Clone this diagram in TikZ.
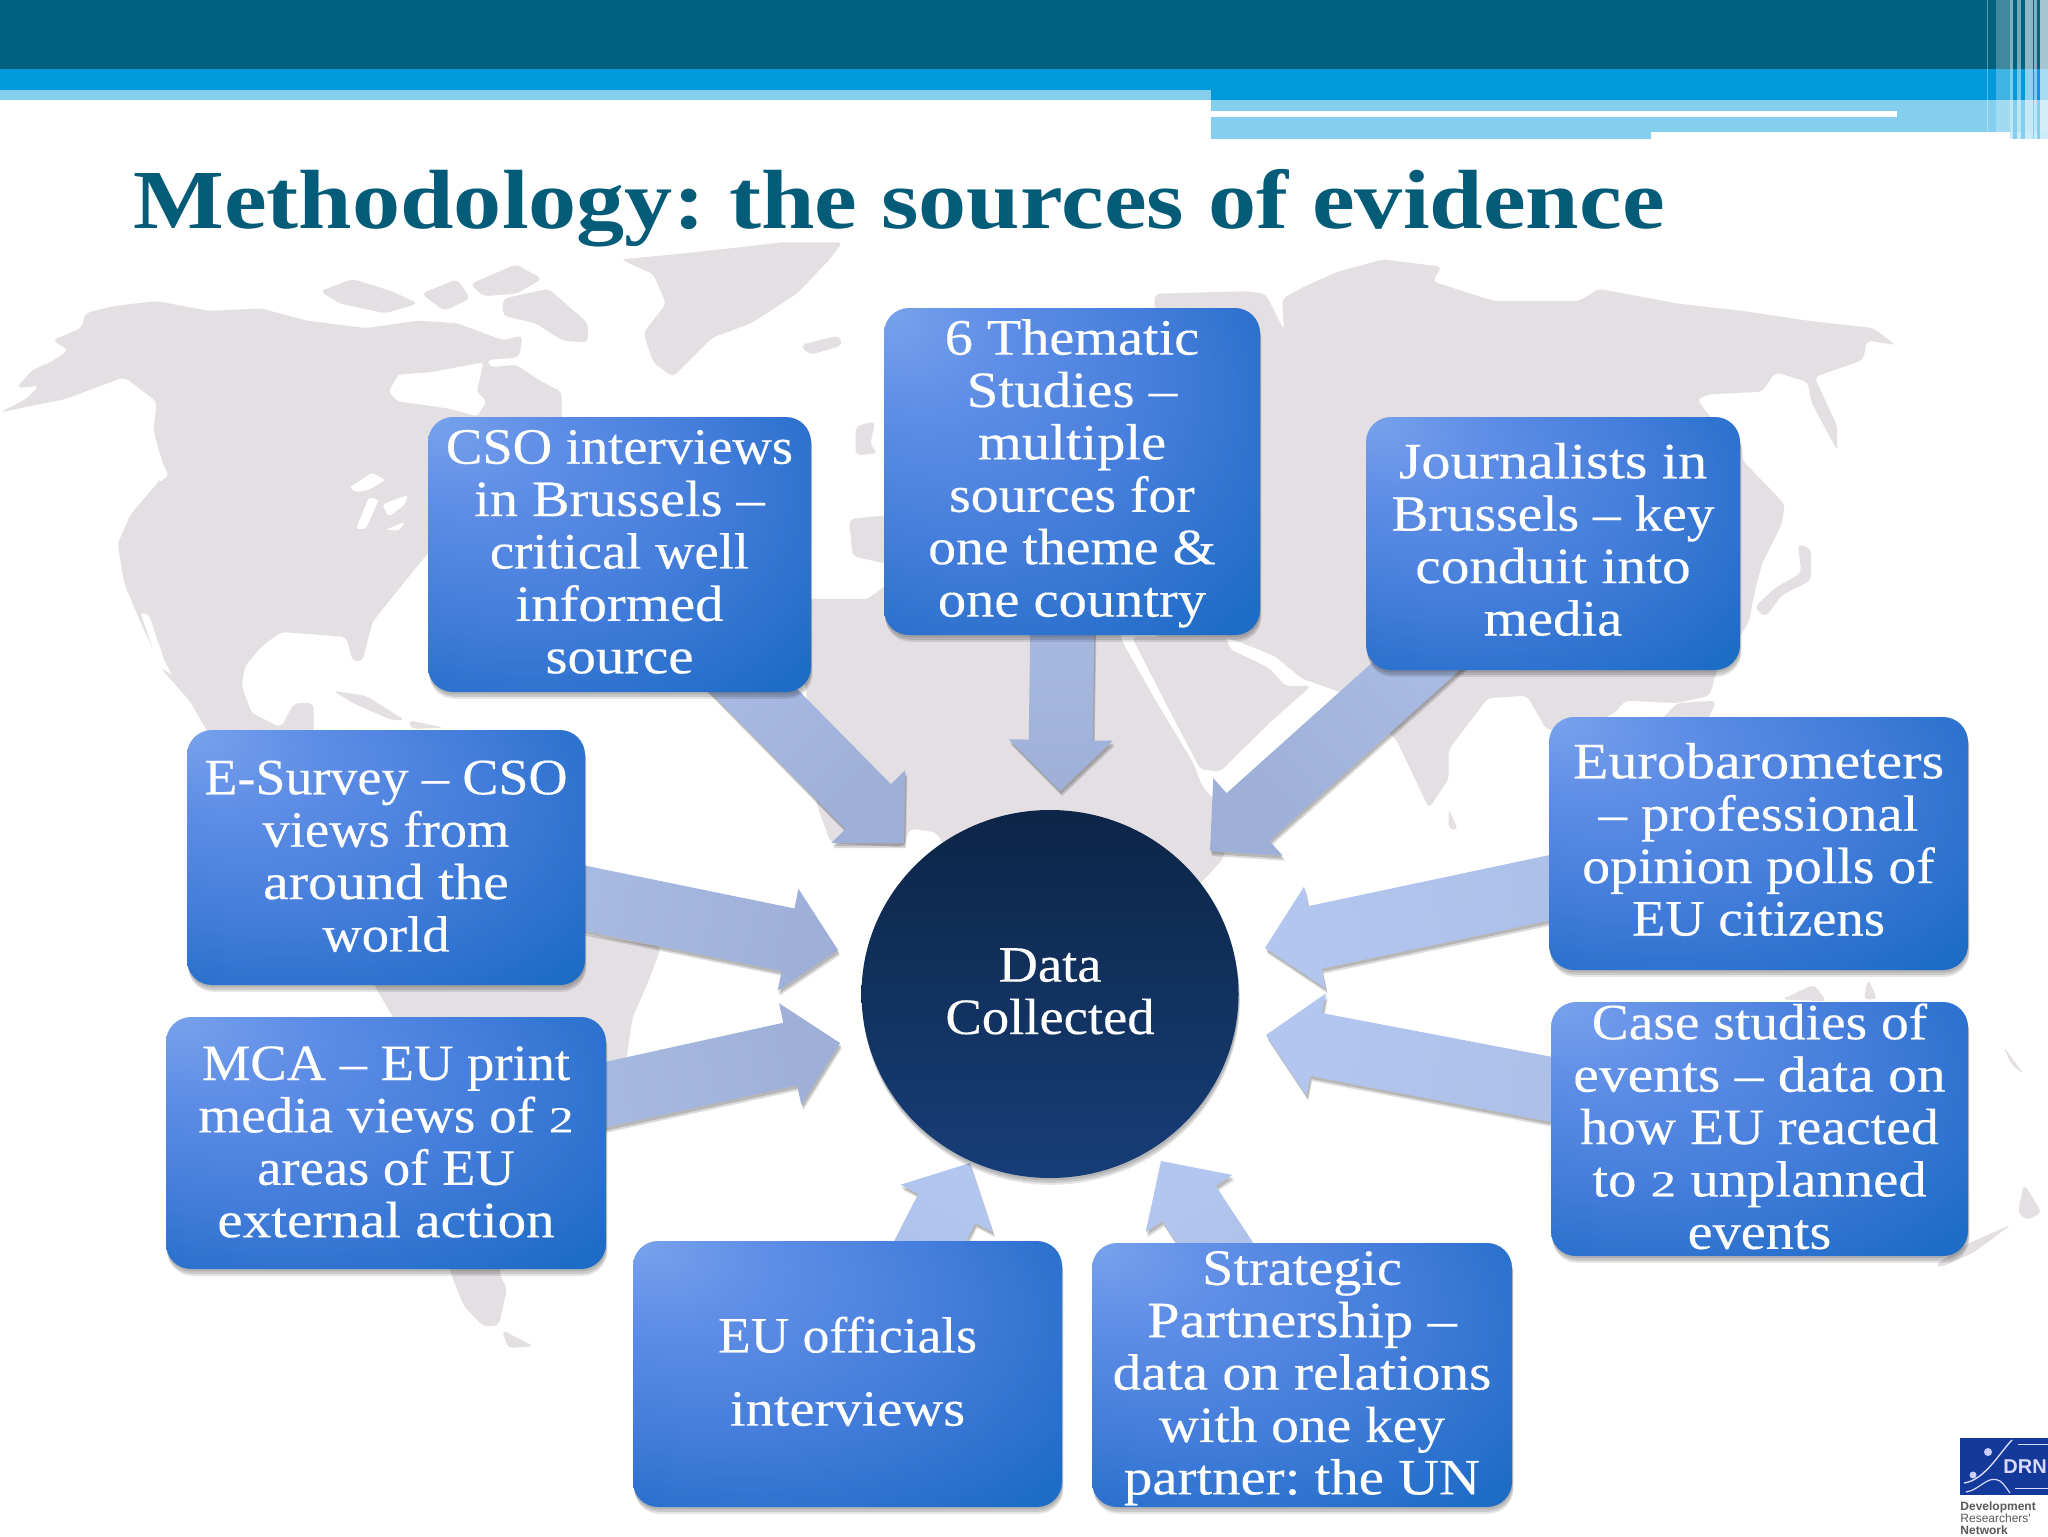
\documentclass[tikz,border=0pt]{standalone}
\usepackage{fontspec}
\setmainfont[FakeStretch=1.07]{Liberation Serif}
\newfontfamily\boxfont[FakeStretch=1.07,FakeBold=0.25]{Liberation Serif}
\newfontfamily\titlefont[FakeStretch=1.145]{Liberation Serif}
\newfontfamily\logofont{Liberation Sans}
\usetikzlibrary{calc,shapes.geometric,shadows}
\pgfdeclarelayer{maplayer}
\pgfdeclarelayer{arrowlayer}
\pgfsetlayers{maplayer,arrowlayer,main}
\definecolor{teal1}{HTML}{02617F}
\definecolor{blue1}{HTML}{009ADA}
\definecolor{light1}{HTML}{84CEEE}
\definecolor{mapc}{HTML}{E3DFE3}
\definecolor{titlec}{HTML}{055C79}
\definecolor{logoblue}{HTML}{13399B}
\definecolor{shca}{RGB}{120,162,236}
\definecolor{shcb}{RGB}{95,142,230}
\definecolor{shcc}{RGB}{66,124,218}
\definecolor{shcd}{RGB}{30,108,198}
\definecolor{shce}{RGB}{14,100,186}
\definecolor{circt}{RGB}{13,37,71}
\definecolor{circb}{RGB}{22,62,119}
\pgfdeclareradialshading{boxshade}{\pgfpoint{-25bp}{25bp}}{%
  color(0bp)=(shca);
  color(11bp)=(shcb);
  color(27bp)=(shcc);
  color(42bp)=(shcd);
  color(60bp)=(shce)}
\tikzset{
  softshadow/.style={drop shadow={shadow xshift=0.3pt,shadow yshift=-1.2pt,opacity=.10,fill=black},
                     drop shadow={shadow xshift=0.5pt,shadow yshift=-2.4pt,opacity=.12,fill=black},
                     drop shadow={shadow xshift=0.7pt,shadow yshift=-3.4pt,opacity=.10,fill=black}},
  boxnode/.style={rectangle,rounded corners=12.5pt,inner sep=0pt,shade,shading=boxshade,softshadow,
                  text=white,align=center,font=\boxfont\fontsize{25.5}{26.2}\selectfont},
  landmass/.style={fill=mapc,draw=none,rounded corners=2.5pt},
  sea/.style={fill=white,draw=none,rounded corners=1.5pt},
  stripe/.style={fill=white,draw=none},
  blockshadow/.style={drop shadow={shadow xshift=0.6pt,shadow yshift=-1.5pt,opacity=.16,fill=black},
                      drop shadow={shadow xshift=1pt,shadow yshift=-2.5pt,opacity=.14,fill=black}}
}
% #1 start, #2 tip, #3 colour at start, #4 colour at tip, #5 shading angle
\newcommand{\blockarrow}[5]{%
  \coordinate (ban) at ($(#2)!25.5pt!(#1)$);
  \path[top color=#4,bottom color=#3,shading angle=#5,blockshadow]
    ($(#1)!16pt!-90:(#2)$) -- ($(ban)!16pt!-90:(#2)$) -- ($(ban)!26pt!-90:(#2)$) -- (#2)
    -- ($(ban)!26pt!90:(#2)$) -- ($(ban)!16pt!90:(#2)$) -- ($(#1)!16pt!90:(#2)$) -- cycle;
}
\newcommand{\smalltwo}{\scalebox{.9}[.72]{2}}
\newcommand{\hs}[2]{\scalebox{#1}[1]{#2}}
\newcommand{\dn}[1]{\rule[-#1pt]{0pt}{1pt}}
\newcommand{\up}[1]{\rule{0pt}{#1pt}}
\begin{document}
\begin{tikzpicture}[x=0.5pt,y=-0.5pt]
\useasboundingbox (0,0) rectangle (2048,1536);
\frenchspacing
\begin{pgfonlayer}{maplayer}
\fill[white] (0,0) rectangle (2048,1536);
\end{pgfonlayer}

% ---------- top band
\fill[teal1] (0,0) rectangle (2048,69);
\fill[blue1] (0,69) rectangle (2048,100);
\fill[light1] (0,90) rectangle (1211,100);
\fill[light1] (1211,100) rectangle (2048,132);
\fill[light1] (1211,132) rectangle (1651,139);
\fill[light1] (2010,132) rectangle (2048,139);
\fill[white] (1211,111) rectangle (1897,117);
\foreach \a/\b/\o in {1987/1988/.35,1996/2010/.25,2010/2013/.5,2017/2021/.45,2025/2033/.55,2034/2037/.5,2040/2048/.65}
  {\fill[stripe,opacity=\o] (\a,0) rectangle (\b,132);}
\foreach \a/\b/\o in {2010/2013/.5,2017/2021/.45,2025/2033/.55,2034/2037/.5,2040/2048/.65}
  {\fill[white,opacity=.6] (\a,132) rectangle (\b,139);}

% ---------- title
\node[anchor=base west,inner sep=0pt,text=titlec,font=\titlefont\bfseries\fontsize{42}{42}\selectfont] (title) at (133,228) {Methodology: the sources of evidence};

% ---------- world map
\begin{pgfonlayer}{maplayer}
\begin{scope}[x=0.32658pt,y=-0.2451pt,shift={(0pt,-115pt)}]
 \fill[landmass] (0,372)--(40,345)--(60,318)--(25,322)--(50,285)--(80,268)--(105,245)--(80,225)--(125,200)--(130,170)--(175,155)--(240,145)--(320,165)--(400,160)--(470,185)--(560,200)--(640,185)--(700,190)--(770,225)--(800,215)--(795,260)--(745,265)--(750,280)--(790,275)--(830,310)--(860,330)--(860,420)--(860,600)--(700,600)--(655,660)--(630,700)--(600,750)--(570,800)--(555,880)--(540,880)--(530,830)--(480,825)--(430,820)--(400,850)--(375,890)--(370,930)--(385,985)--(430,1015)--(450,965)--(480,965)--(480,1040)--(325,1040)--(290,960)--(250,900)--(215,800)--(190,720)--(180,640)--(200,580)--(245,510)--(250,480)--(235,410)--(240,350)--(190,300)--(100,345)--cycle;
 \fill[sea] (595,330)--(610,295)--(660,290)--(700,280)--(740,270)--(730,330)--(745,350)--(730,380)--(690,365)--(640,355)--(610,350)--cycle;
 \fill[sea] (535,525)--(570,495)--(590,510)--(565,530)--(545,535)--cycle;
 \fill[sea] (545,610)--(565,545)--(580,550)--(560,610)--cycle;
 \fill[sea] (585,560)--(625,540)--(620,560)--(595,585)--cycle;
 \fill[sea] (590,612)--(620,595)--(612,612)--cycle;
 \fill[sea] (232,460)--(245,465)--(258,500)--(245,515)--cycle;
 \fill[sea] (215,780)--(228,785)--(252,880)--(264,908)--(243,890)--cycle;
 \fill[landmass] (490,125)--(540,100)--(600,125)--(640,150)--(590,170)--(520,150)--cycle;
 \fill[landmass] (645,130)--(700,100)--(720,140)--(680,165)--cycle;
 \fill[landmass] (720,110)--(790,70)--(830,100)--(790,130)--(740,135)--cycle;
 \fill[landmass] (770,140)--(840,120)--(900,190)--(900,230)--(860,225)--(820,190)--(770,175)--cycle;
 \fill[landmass] (510,940)--(560,950)--(620,1000)--(600,1000)--(540,965)--cycle;
 \fill[landmass] (625,1000)--(680,1015)--(630,1018)--cycle;
 % Greenland, Iceland, Britain, Spain, NW Africa
 \fill[landmass] (950,60)--(1030,50)--(1100,40)--(1200,25)--(1290,25)--(1270,60)--(1220,130)--(1150,190)--(1090,220)--(1030,300)--(1000,270)--(985,210)--(1020,150)--(1000,90)--cycle;
 \fill[landmass] (1225,235)--(1285,215)--(1290,235)--(1240,255)--cycle;
 \fill[landmass] (1310,400)--(1340,390)--(1332,440)--(1345,455)--(1310,460)--cycle;
 \fill[landmass] (1300,590)--(1370,580)--(1370,685)--(1305,665)--cycle;
 \fill[landmass] (1370,712)--(1300,780)--(1255,860)--(1235,900)--(1235,1000)--(1600,1000)--(1600,700)--cycle;
\end{scope}
\begin{scope}[x=0.2232pt,y=-0.2104pt,shift={(350pt,-310pt)}]
 % Africa
 \fill[landmass] (200,-50)--(240,180)--(262,440)--(293,530)--(456,540)--(470,495)--(530,505)--(560,560)--(600,650)--(1100,650)--(1170,570)--(1195,480)--(1125,395)--(1105,340)--(1020,190)--(945,50)--(930,-50)--cycle;
\end{scope}
\begin{scope}[x=0.32658pt,y=-0.2451pt,shift={(512pt,-115pt)}]
 % Eurasia
 \fill[landmass] (340,125)--(370,130)--(398,205)--(395,140)--(430,115)--(480,85)--(550,60)--(640,75)--(625,105)--(720,145)--(850,145)--(880,120)--(1000,150)--(1100,165)--(1200,185)--(1300,200)--(1335,235)--(1290,225)--(1285,265)--(1210,300)--(1245,400)--(1245,450)--(1205,350)--(1200,310)--(1150,290)--(1130,330)--(1050,335)--(1030,345)--(1050,380)--(1100,440)--(1100,470)--(1165,560)--(1160,600)--(1130,680)--(1120,730)--(1110,800)--(1060,900)--(1050,950)--(1000,965)--(920,960)--(905,985)--(850,1020)--(800,1020)--(770,950)--(710,955)--(650,1060)--(650,1120)--(620,1180)--(570,1040)--(500,950)--(425,915)--(385,870)--(320,835)--(200,830)--(200,130)--cycle;
 % Arabia
 \fill[landmass] (165,830)--(215,960)--(270,1100)--(300,1105)--(380,1000)--(440,930)--(400,930)--(375,893)--(315,855)--(310,830)--cycle;
 % islands
 \fill[landmass] (650,1180)--(665,1225)--(650,1222)--cycle;
 \fill[landmass] (1185,640)--(1205,650)--(1205,715)--(1160,745)--(1135,790)--(1118,770)--(1150,730)--(1190,700)--cycle;
 \fill[landmass] (1000,965)--(1060,960)--(1040,1020)--(960,1020)--cycle;
\end{scope}
\begin{scope}[x=0.3189pt,y=-0.2028pt,shift={(50pt,-450pt)}]
 % South America
 \fill[landmass] (430,100)--(760,85)--(880,115)--(860,200)--(835,290)--(825,395)--(790,500)--(625,915)--(638,960)--(625,1050)--(600,1050)--(570,1000)--(550,920)--(460,290)--(430,210)--cycle;
 \fill[landmass] (630,1060)--(680,1100)--(640,1105)--cycle;
\end{scope}
\begin{scope}[x=0.3183pt,y=-0.2028pt,shift={(525pt,-450pt)}]
 \fill[landmass] (1150,245)--(1200,208)--(1220,250)--cycle;
 \fill[landmass] (1285,195)--(1300,245)--(1278,245)--cycle;
 \fill[landmass] (1497,360)--(1530,430)--(1510,405)--cycle;
 \fill[landmass] (1530,700)--(1558,770)--(1535,790)--(1520,770)--cycle;
 \fill[landmass] (1510,800)--(1450,870)--(1400,905)--(1390,900)--(1445,845)--cycle;
\end{scope}
\end{pgfonlayer}

% ---------- centre
\node[ellipse,minimum width=188.5pt,minimum height=184pt,inner sep=0pt,top color=circt,bottom color=circb,softshadow,text=white,align=center,font=\boxfont\fontsize{25.5}{26.2}\selectfont] (data) at (1050,994) {Data\\Collected\dn{2.9}};

% ---------- boxes
\node[boxnode,minimum width=191.5pt,minimum height=137.5pt] (cso) at (619.5,554.5) {CSO interviews\\\hs{1.03}{in Brussels –}\\critical well\\\hs{1.04}{informed}\\\hs{1.04}{source}\dn{2.9}};
\node[boxnode,minimum width=188pt,minimum height=163.5pt] (them) at (1072,471.5) {\up{19.6}\hs{1.03}{6 Thematic}\\\hs{1.045}{Studies –}\\\hs{1.035}{multiple}\\\hs{1.02}{sources for}\\\hs{1.02}{one theme \&}\\\hs{1.035}{one country}};
\node[boxnode,minimum width=187pt,minimum height=126.5pt] (jour) at (1553,543.5) {\hs{1.065}{Journalists in}\\\hs{1.015}{Brussels – key}\\\hs{1.05}{conduit into}\\\hs{1.04}{media}\dn{4.3}};
\node[boxnode,minimum width=209.5pt,minimum height=126.5pt] (euro) at (1758.5,843.5) {\hs{1.065}{Eurobarometers}\\\hs{1.04}{– professional}\\\hs{1.02}{opinion polls of}\\EU citizens\dn{4.3}};
\node[boxnode,minimum width=208.5pt,minimum height=127pt] (casest) at (1759.5,1129) {\hs{1.015}{Case studies of}\\\hs{1.055}{events – data on}\\\hs{1.02}{how EU reacted}\\\hs{1.04}{to \smalltwo{} unplanned}\\\hs{1.03}{events}\dn{2.9}};
\node[boxnode,minimum width=210pt,minimum height=132pt] (strat) at (1302,1375) {\up{20}\hs{1.03}{Strategic}\\\hs{1.07}{Partnership –}\\\hs{1.05}{data on relations}\\\hs{1.015}{with one key}\\\hs{1.04}{partner: the UN}};
\node[boxnode,minimum width=214.5pt,minimum height=133pt] (euoff) at (847.5,1374) {\hs{.98}{EU officials}\\[10.4pt]\hs{1.035}{interviews}\dn{2.9}};
\node[boxnode,minimum width=220pt,minimum height=126pt] (mca) at (386,1143) {MCA – EU print\\\hs{1.01}{media views of \smalltwo}\\areas of EU\\\hs{1.045}{external action}\dn{1.3}};
\node[boxnode,minimum width=199pt,minimum height=127.5pt] (esur) at (386,857.5) {\hs{.99}{E-Survey – CSO}\\views from\\\hs{1.06}{around the}\\world\dn{1.5}};

% ---------- block arrows
\coordinate (tcso) at (904,843);
\coordinate (tthem) at (1060,791);
\coordinate (sthem) at (1064.5,471);
\coordinate (tjour) at (1210,851);
\coordinate (tesur) at (838,950);
\coordinate (tmca) at (840,1043);
\coordinate (teuro) at (1265,948);
\coordinate (tcase) at (1266,1035);
\coordinate (teuoff) at (970,1163);
\coordinate (seuoff) at (862,1374);
\coordinate (tstrat) at (1161,1161);
\begin{pgfonlayer}{arrowlayer}
\definecolor{ca}{HTML}{AFC2EA}\definecolor{cb}{HTML}{9EB0D8}\definecolor{cc}{HTML}{B3C6EF}\definecolor{cd}{HTML}{A8BBE3}
\blockarrow{cso.center}{tcso}{ca}{cb}{-135}
\blockarrow{sthem}{tthem}{ca}{cb}{-180}
\blockarrow{jour.center}{tjour}{ca}{cb}{132}
\blockarrow{esur.center}{tesur}{ca}{cb}{-102}
\blockarrow{mca.center}{tmca}{ca}{cb}{-78}
\blockarrow{euro.center}{teuro}{cd}{cc}{102}
\blockarrow{casest.center}{tcase}{cd}{cc}{79}
\blockarrow{seuoff}{teuoff}{cd}{cc}{-27}
\blockarrow{strat.center}{tstrat}{cd}{cc}{33}
\end{pgfonlayer}

% ---------- logo
\begin{scope}
\clip (1950,1430) rectangle (2048,1536);
\fill[logoblue] (1960,1438) rectangle (2048,1495);
\draw[white!85!blue,line width=.7pt] (2012,1440) .. controls (2000,1452) and (1985,1480) .. (1964,1483);
\draw[white!85!blue,line width=.6pt] (1966,1492) .. controls (1980,1490) and (1988,1474) .. (2000,1481) .. controls (2004,1484) and (2007,1489) .. (2010,1493);
\fill[white!80!blue] (1988,1452) circle (4);
\fill[white!80!blue] (1973,1475) circle (3.5);
\draw[white!85!blue,line width=.5pt] (2018,1444) -- (2048,1444);
\draw[white!85!blue,line width=.5pt] (2015,1488) -- (2048,1488);
\node[anchor=west,inner sep=0pt,text=white!85!blue,font=\logofont\bfseries\fontsize{10}{10}\selectfont] (drn) at (2003,1467) {DRN};
\node[anchor=base west,inner sep=0pt,text=black!65,font=\logofont\bfseries\fontsize{6}{6}\selectfont] (l1) at (1960,1510) {Development};
\node[anchor=base west,inner sep=0pt,text=black!65,font=\logofont\fontsize{6}{6}\selectfont] (l2) at (1960,1522) {Researchers'};
\node[anchor=base west,inner sep=0pt,text=black!65,font=\logofont\bfseries\fontsize{6}{6}\selectfont] (l3) at (1960,1534) {Network};
\end{scope}
\end{tikzpicture}
\end{document}
